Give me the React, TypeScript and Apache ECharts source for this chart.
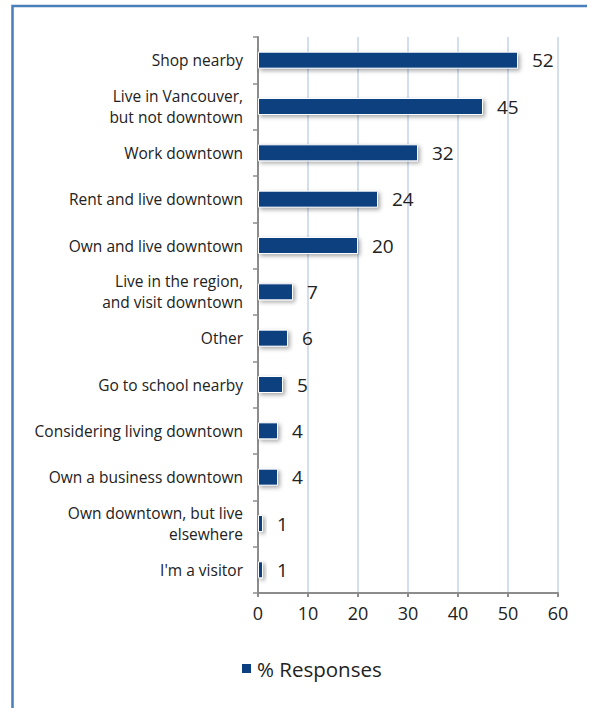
import React, { useEffect, useRef } from "react";
import * as echarts from "echarts";

const categories = [
  "Shop nearby",
  "Live in Vancouver,\nbut not downtown",
  "Work downtown",
  "Rent and live downtown",
  "Own and live downtown",
  "Live in the region,\nand visit downtown",
  "Other",
  "Go to school nearby",
  "Considering living downtown",
  "Own a business downtown",
  "Own downtown, but live\nelsewhere",
  "I'm a visitor",
];
const responses = [52, 45, 32, 24, 20, 7, 6, 5, 4, 4, 1, 1];
const seriesName = "% Responses";

export default function App() {
  const ref = useRef<HTMLDivElement>(null);
  useEffect(() => {
    const chart = echarts.init(ref.current!, null, { renderer: "svg" });
    chart.setOption({
      animation: false,
      backgroundColor: "#ffffff",
      textStyle: { fontFamily: "Open Sans" },
      graphic: [
        {
          type: "polyline",
          shape: { points: [[12.5, 720], [12.5, 6], [587, 6]] },
          style: { stroke: "#4a7ebb", lineWidth: 2.5, fill: "none" },
          silent: true,
        },
      ],
      grid: { left: 258, right: 37, top: 37, bottom: 115, containLabel: false },
      legend: {
        data: [seriesName],
        left: 240,
        top: 658,
        padding: 0,
        itemWidth: 11,
        itemHeight: 11,
        itemGap: 6,
        icon: "rect",
        textStyle: { fontSize: 20.5, color: "#222", fontFamily: "Open Sans" },
      },
      xAxis: {
        type: "value",
        min: 0,
        max: 60,
        interval: 10,
        axisLine: { show: true, lineStyle: { color: "#8c8c8c", width: 2 } },
        axisTick: { show: true, length: 4, lineStyle: { color: "#8c8c8c", width: 2 } },
        axisLabel: { fontSize: 18, color: "#222", margin: 11, fontFamily: "Open Sans" },
        splitLine: { show: true, lineStyle: { color: "#c5d5ea", width: 1.5 } },
      },
      yAxis: {
        type: "category",
        data: categories,
        inverse: true,
        axisLine: { show: true, lineStyle: { color: "#8c8c8c", width: 2 } },
        axisTick: { show: true, length: 5, lineStyle: { color: "#8c8c8c", width: 1.5 } },
        axisLabel: {
          fontSize: 15.5,
          color: "#222",
          margin: 15,
          lineHeight: 21,
          fontFamily: "Open Sans",
        },
        splitLine: { show: false },
      },
      series: [
        {
          name: seriesName,
          type: "bar",
          data: responses,
          barWidth: 17,
          itemStyle: {
            color: "#0b3f7f",
            borderColor: "#ffffff",
            borderWidth: 1,
            shadowBlur: 4,
            shadowColor: "rgba(0,0,0,0.35)",
            shadowOffsetX: 2,
            shadowOffsetY: 2,
          },
          label: {
            show: true,
            position: "right",
            distance: 14,
            fontSize: 19,
            color: "#222",
            fontFamily: "Open Sans",
          },
        },
      ],
    });
    return () => chart.dispose();
  }, []);
  return (
    <div
      ref={ref}
      style={{ position: "absolute", left: 0, top: 0, width: 595, height: 708 }}
    />
  );
}
